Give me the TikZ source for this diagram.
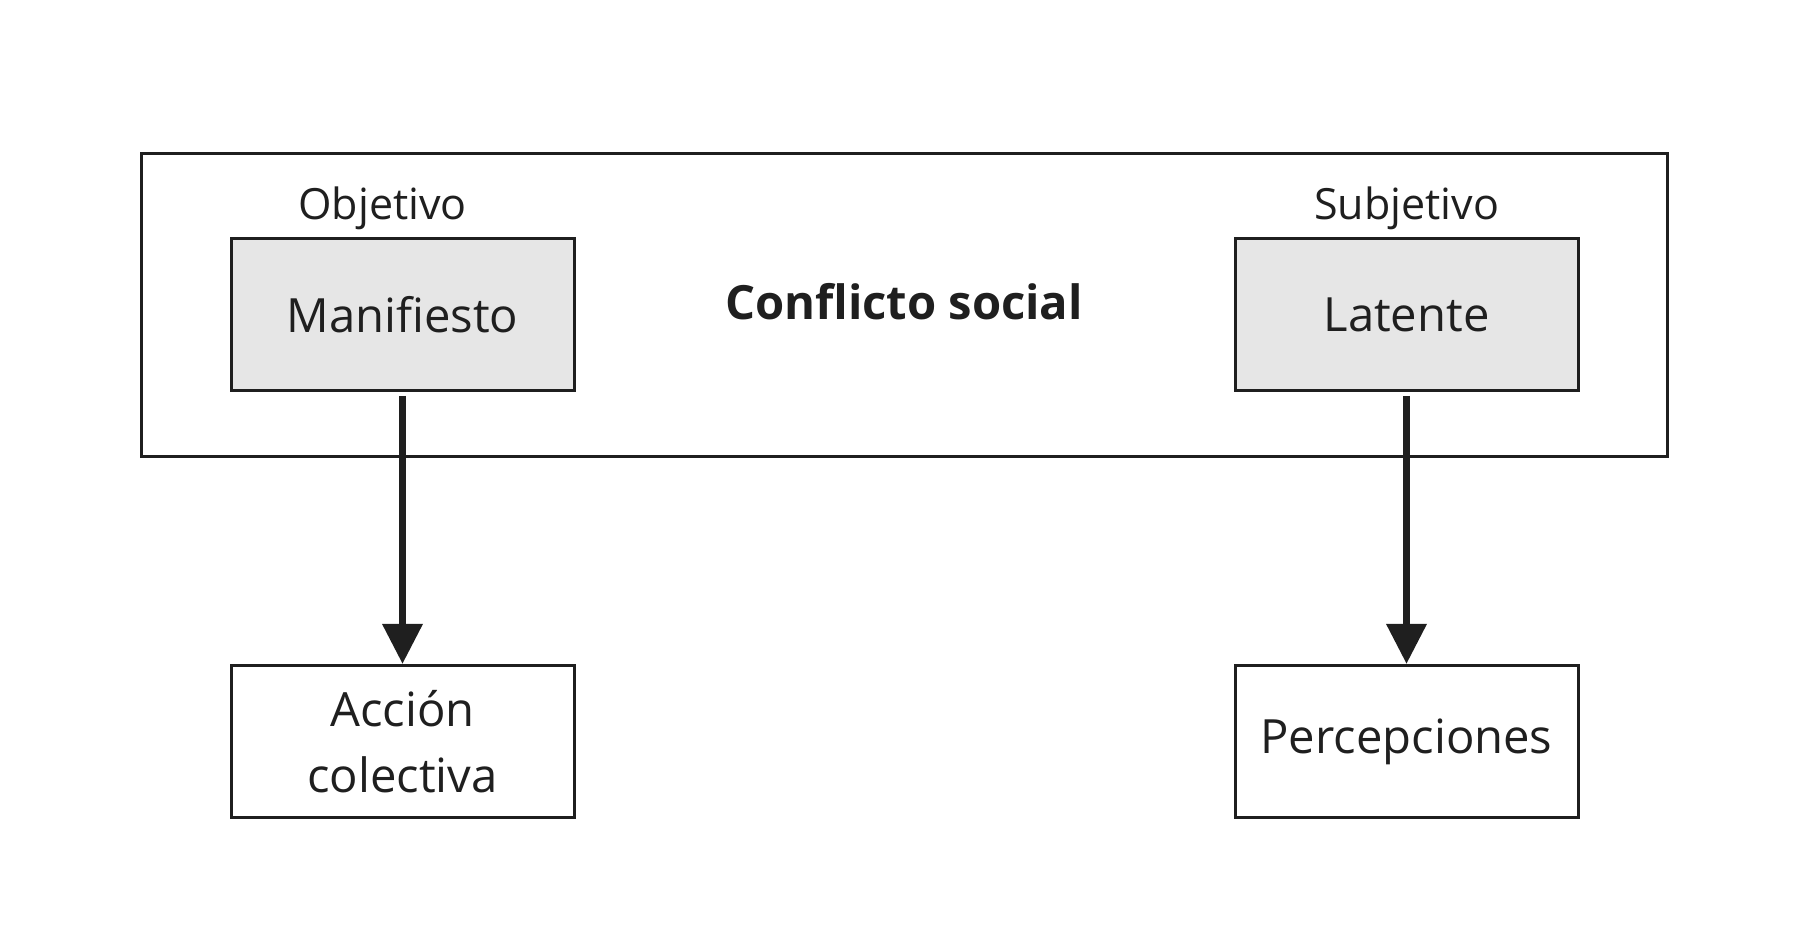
\documentclass[tikz,border=0pt]{standalone}
\usepackage{fontspec}
\setmainfont{Open Sans}
\usepackage{xcolor}
\usetikzlibrary{arrows.meta,positioning}
\definecolor{tinta}{HTML}{1F1F1F}
\definecolor{gris}{HTML}{E6E6E6}

\begin{document}
\begin{tikzpicture}[
    node distance=136pt and 329pt,
    marco/.style={rectangle, draw=tinta, line width=1.5pt, minimum width=763pt, minimum height=151.25pt},
    titulo/.style={font=\fontsize{23.6}{28}\selectfont\bfseries, text=tinta},
    caja/.style={rectangle, draw=tinta, line width=1.5pt, fill=gris, minimum width=171.5pt, minimum height=76pt, align=center, font=\fontsize{23.6}{28}\selectfont, text=tinta},
    resultado/.style={caja, fill=white, font=\fontsize{23.6}{33}\selectfont},
    etiqueta/.style={font=\fontsize{21.5}{25}\selectfont, text=tinta, inner sep=0pt},
    flecha/.style={-{Triangle[width=19.5pt,length=20pt]}, line width=3.5pt, draw=tinta, shorten <=2pt}
    ]

    \useasboundingbox (0,0) rectangle (905pt,-474pt);

    % Marco general
    \node[marco] (conflicto) at (452pt,-152.4pt) {};
    \node[titulo] (titulo) at ([yshift=1.5pt]conflicto.center) {Conflicto social};

    % Dimensiones del conflicto
    \node[caja] (manif) at (201.25pt,-157.2pt) {Manifiesto};
    \node[caja, right=of manif] (latente) {Latente};

    % Etiquetas
    \node[etiqueta, above=8.5pt of manif.north, anchor=base, xshift=-10pt] (objetivo) {Objetivo};
    \node[etiqueta, above=8.5pt of latente.north, anchor=base] (subjetivo) {Subjetivo};

    % Consecuencias
    \node[resultado, below=of manif] (accion) {Acci\'on\\colectiva};
    \node[resultado, below=of latente] (percep) {Percepciones};

    % Flechas
    \draw[flecha] (manif) -- (accion);
    \draw[flecha] (latente) -- (percep);

\end{tikzpicture}
\end{document}
